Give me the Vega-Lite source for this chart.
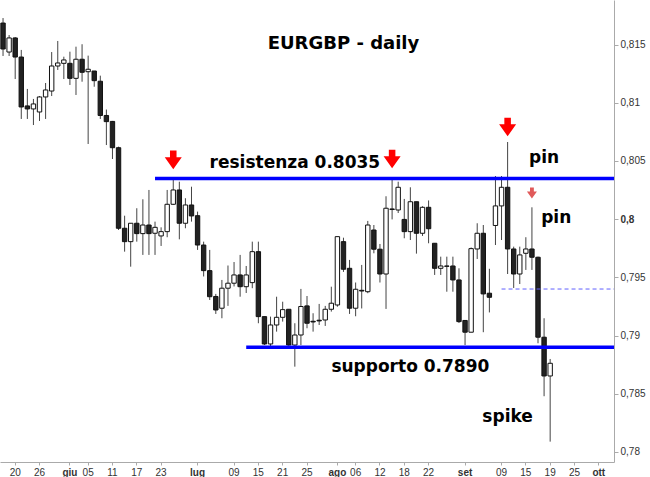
{
  "$schema": "https://vega.github.io/schema/vega-lite/v6.json",
  "width": 614,
  "height": 462,
  "autosize": {"type": "none"},
  "padding": {"left": 0, "top": 0, "right": 36, "bottom": 15},
  "background": "#ffffff",
  "config": {"view": {"stroke": null}},
  "datasets": {
    "candles": [
      {"d":"2014-05-16","o":0.81685,"h":0.81728,"l":0.81402,"c":0.81462},
      {"d":"2014-05-19","o":0.81436,"h":0.81582,"l":0.81402,"c":0.81557},
      {"d":"2014-05-20","o":0.81557,"h":0.81565,"l":0.81204,"c":0.81393},
      {"d":"2014-05-21","o":0.81393,"h":0.81454,"l":0.80861,"c":0.80964},
      {"d":"2014-05-22","o":0.80973,"h":0.81119,"l":0.80861,"c":0.80947},
      {"d":"2014-05-23","o":0.80947,"h":0.81033,"l":0.80809,"c":0.8099},
      {"d":"2014-05-26","o":0.80921,"h":0.81058,"l":0.80844,"c":0.8105},
      {"d":"2014-05-27","o":0.8105,"h":0.8117,"l":0.80861,"c":0.8111},
      {"d":"2014-05-28","o":0.81101,"h":0.81436,"l":0.81058,"c":0.81316},
      {"d":"2014-05-29","o":0.81316,"h":0.81531,"l":0.81282,"c":0.81342},
      {"d":"2014-05-30","o":0.81339,"h":0.81396,"l":0.81204,"c":0.81368},
      {"d":"2014-06-02","o":0.81339,"h":0.81439,"l":0.81153,"c":0.8121},
      {"d":"2014-06-03","o":0.8121,"h":0.81482,"l":0.81067,"c":0.81374},
      {"d":"2014-06-04","o":0.81374,"h":0.81503,"l":0.81181,"c":0.81262},
      {"d":"2014-06-05","o":0.81267,"h":0.81405,"l":0.80646,"c":0.81288},
      {"d":"2014-06-06","o":0.81273,"h":0.81273,"l":0.81138,"c":0.8119},
      {"d":"2014-06-09","o":0.81185,"h":0.81233,"l":0.80861,"c":0.80891},
      {"d":"2014-06-10","o":0.80891,"h":0.80942,"l":0.80637,"c":0.80838},
      {"d":"2014-06-11","o":0.8084,"h":0.80844,"l":0.80517,"c":0.80614},
      {"d":"2014-06-12","o":0.80614,"h":0.80623,"l":0.79907,"c":0.79922},
      {"d":"2014-06-13","o":0.79922,"h":0.8003,"l":0.79721,"c":0.79807},
      {"d":"2014-06-16","o":0.79807,"h":0.79965,"l":0.79592,"c":0.79965},
      {"d":"2014-06-17","o":0.79965,"h":0.80094,"l":0.79807,"c":0.79876},
      {"d":"2014-06-18","o":0.79876,"h":0.80171,"l":0.79693,"c":0.7995},
      {"d":"2014-06-19","o":0.7995,"h":0.80251,"l":0.79693,"c":0.79876},
      {"d":"2014-06-20","o":0.79879,"h":0.79979,"l":0.79693,"c":0.7993},
      {"d":"2014-06-23","o":0.79856,"h":0.7993,"l":0.7977,"c":0.79893},
      {"d":"2014-06-24","o":0.79893,"h":0.80251,"l":0.79845,"c":0.80128},
      {"d":"2014-06-25","o":0.80128,"h":0.80337,"l":0.80122,"c":0.80251},
      {"d":"2014-06-26","o":0.80251,"h":0.80322,"l":0.79827,"c":0.79965},
      {"d":"2014-06-27","o":0.79965,"h":0.8018,"l":0.79922,"c":0.80122},
      {"d":"2014-06-30","o":0.80122,"h":0.80279,"l":0.79979,"c":0.80028},
      {"d":"2014-07-01","o":0.8003,"h":0.80065,"l":0.79736,"c":0.79778},
      {"d":"2014-07-02","o":0.79778,"h":0.79807,"l":0.79508,"c":0.79558},
      {"d":"2014-07-03","o":0.79558,"h":0.79736,"l":0.79306,"c":0.79334},
      {"d":"2014-07-04","o":0.79336,"h":0.79358,"l":0.79186,"c":0.7922},
      {"d":"2014-07-07","o":0.79235,"h":0.79478,"l":0.79149,"c":0.79407},
      {"d":"2014-07-08","o":0.79407,"h":0.79602,"l":0.79255,"c":0.7945},
      {"d":"2014-07-09","o":0.7945,"h":0.79632,"l":0.79422,"c":0.79521},
      {"d":"2014-07-10","o":0.79521,"h":0.79693,"l":0.79334,"c":0.7942},
      {"d":"2014-07-11","o":0.7942,"h":0.79598,"l":0.79366,"c":0.79521},
      {"d":"2014-07-14","o":0.79455,"h":0.79807,"l":0.79407,"c":0.79721},
      {"d":"2014-07-15","o":0.79721,"h":0.79807,"l":0.79106,"c":0.79163},
      {"d":"2014-07-16","o":0.79163,"h":0.79163,"l":0.78919,"c":0.78928},
      {"d":"2014-07-17","o":0.78928,"h":0.79163,"l":0.78894,"c":0.79091},
      {"d":"2014-07-18","o":0.79091,"h":0.79334,"l":0.79034,"c":0.79157},
      {"d":"2014-07-21","o":0.79157,"h":0.79291,"l":0.7912,"c":0.79223},
      {"d":"2014-07-22","o":0.79226,"h":0.79226,"l":0.78911,"c":0.78919},
      {"d":"2014-07-23","o":0.78919,"h":0.79106,"l":0.78733,"c":0.79005},
      {"d":"2014-07-24","o":0.79005,"h":0.79401,"l":0.78919,"c":0.7925},
      {"d":"2014-07-25","o":0.79255,"h":0.7934,"l":0.79063,"c":0.79106},
      {"d":"2014-07-28","o":0.79123,"h":0.79192,"l":0.79034,"c":0.79117},
      {"d":"2014-07-29","o":0.79132,"h":0.79272,"l":0.79091,"c":0.79126},
      {"d":"2014-07-30","o":0.79134,"h":0.79255,"l":0.79083,"c":0.79226},
      {"d":"2014-07-31","o":0.79226,"h":0.7942,"l":0.79206,"c":0.79278},
      {"d":"2014-08-01","o":0.79263,"h":0.7985,"l":0.79248,"c":0.7985},
      {"d":"2014-08-04","o":0.79807,"h":0.79841,"l":0.79547,"c":0.7957},
      {"d":"2014-08-05","o":0.79578,"h":0.7965,"l":0.79186,"c":0.79235},
      {"d":"2014-08-06","o":0.79235,"h":0.79456,"l":0.79166,"c":0.79398},
      {"d":"2014-08-07","o":0.79389,"h":0.79607,"l":0.79233,"c":0.79383},
      {"d":"2014-08-08","o":0.79377,"h":0.79985,"l":0.79364,"c":0.7995},
      {"d":"2014-08-11","o":0.79907,"h":0.7995,"l":0.79707,"c":0.79742},
      {"d":"2014-08-12","o":0.79742,"h":0.79787,"l":0.79456,"c":0.79529},
      {"d":"2014-08-13","o":0.79529,"h":0.80197,"l":0.79229,"c":0.80094},
      {"d":"2014-08-14","o":0.80088,"h":0.80337,"l":0.79998,"c":0.80083},
      {"d":"2014-08-15","o":0.80079,"h":0.80322,"l":0.80053,"c":0.80274},
      {"d":"2014-08-18","o":0.79998,"h":0.80174,"l":0.79836,"c":0.79893},
      {"d":"2014-08-19","o":0.79893,"h":0.80274,"l":0.79821,"c":0.8015},
      {"d":"2014-08-20","o":0.8015,"h":0.8015,"l":0.79704,"c":0.79879},
      {"d":"2014-08-21","o":0.79879,"h":0.80111,"l":0.79856,"c":0.80102},
      {"d":"2014-08-22","o":0.80102,"h":0.80161,"l":0.79793,"c":0.79918},
      {"d":"2014-08-25","o":0.79793,"h":0.79793,"l":0.79521,"c":0.79578},
      {"d":"2014-08-26","o":0.79578,"h":0.79678,"l":0.79521,"c":0.79598},
      {"d":"2014-08-27","o":0.79598,"h":0.79678,"l":0.79377,"c":0.79595},
      {"d":"2014-08-28","o":0.79598,"h":0.79678,"l":0.79377,"c":0.79478},
      {"d":"2014-08-29","o":0.79478,"h":0.79578,"l":0.79108,"c":0.7912},
      {"d":"2014-09-01","o":0.7913,"h":0.79132,"l":0.78919,"c":0.79029},
      {"d":"2014-09-02","o":0.79029,"h":0.79757,"l":0.79029,"c":0.79747},
      {"d":"2014-09-03","o":0.79744,"h":0.79965,"l":0.79658,"c":0.79879},
      {"d":"2014-09-04","o":0.79879,"h":0.7995,"l":0.79029,"c":0.79358},
      {"d":"2014-09-05","o":0.79364,"h":0.79574,"l":0.79199,"c":0.79329},
      {"d":"2014-09-08","o":0.79946,"h":0.80371,"l":0.79778,"c":0.80114},
      {"d":"2014-09-09","o":0.80114,"h":0.80371,"l":0.79821,"c":0.80274},
      {"d":"2014-09-10","o":0.80274,"h":0.80663,"l":0.79529,"c":0.79744},
      {"d":"2014-09-11","o":0.79744,"h":0.79764,"l":0.79409,"c":0.79529},
      {"d":"2014-09-12","o":0.79529,"h":0.79764,"l":0.79443,"c":0.79693},
      {"d":"2014-09-15","o":0.79707,"h":0.79845,"l":0.79564,"c":0.79744},
      {"d":"2014-09-16","o":0.79744,"h":0.80102,"l":0.79564,"c":0.79673},
      {"d":"2014-09-17","o":0.79673,"h":0.79678,"l":0.78934,"c":0.78986},
      {"d":"2014-09-18","o":0.78986,"h":0.79149,"l":0.78479,"c":0.78653},
      {"d":"2014-09-19","o":0.78653,"h":0.78799,"l":0.78089,"c":0.78762}
    ],
    "levels": [
      {"start":"2014-06-20","end":"2014-10-03","p":0.8035,"kind":"resistenza"},
      {"start":"2014-07-11","end":"2014-10-03","p":0.789,"kind":"supporto"}
    ],
    "dashed": [
      {"start":"2014-09-09","end":"2014-10-03","p":0.794}
    ],
    "arrows": [
      {"d":"2014-06-25","p":0.80509},
      {"d":"2014-08-14","p":0.80517},
      {"d":"2014-09-10","p":0.80792}
    ],
    "smallArrows": [
      {"d":"2014-09-16","p":0.80225}
    ],
    "notes": [
      {"d":"2014-08-04","p":0.81505,"label":"EURGBP - daily","size":18},
      {"d":"2014-07-23","p":0.80483,"label":"resistenza 0.8035","size":17},
      {"d":"2014-08-19","p":0.7873,"label":"supporto 0.7890","size":17},
      {"d":"2014-09-18","p":0.80526,"label":"pin","size":17},
      {"d":"2014-09-22","p":0.8001,"label":"pin","size":17},
      {"d":"2014-09-10","p":0.78301,"label":"spike","size":17}
    ]
  },
  "encoding": {
    "x": {
      "field": "d",
      "type": "ordinal",
      "scale": {
        "domain": ["2014-05-16","2014-05-19","2014-05-20","2014-05-21","2014-05-22","2014-05-23","2014-05-26","2014-05-27","2014-05-28","2014-05-29","2014-05-30",
          "2014-06-02","2014-06-03","2014-06-04","2014-06-05","2014-06-06","2014-06-09","2014-06-10","2014-06-11","2014-06-12","2014-06-13","2014-06-16","2014-06-17","2014-06-18","2014-06-19","2014-06-20","2014-06-23","2014-06-24","2014-06-25","2014-06-26","2014-06-27","2014-06-30",
          "2014-07-01","2014-07-02","2014-07-03","2014-07-04","2014-07-07","2014-07-08","2014-07-09","2014-07-10","2014-07-11","2014-07-14","2014-07-15","2014-07-16","2014-07-17","2014-07-18","2014-07-21","2014-07-22","2014-07-23","2014-07-24","2014-07-25","2014-07-28","2014-07-29","2014-07-30","2014-07-31",
          "2014-08-01","2014-08-04","2014-08-05","2014-08-06","2014-08-07","2014-08-08","2014-08-11","2014-08-12","2014-08-13","2014-08-14","2014-08-15","2014-08-18","2014-08-19","2014-08-20","2014-08-21","2014-08-22","2014-08-25","2014-08-26","2014-08-27","2014-08-28","2014-08-29",
          "2014-09-01","2014-09-02","2014-09-03","2014-09-04","2014-09-05","2014-09-08","2014-09-09","2014-09-10","2014-09-11","2014-09-12","2014-09-15","2014-09-16","2014-09-17","2014-09-18","2014-09-19","2014-09-22","2014-09-23","2014-09-24","2014-09-25","2014-09-26","2014-09-29","2014-09-30",
          "2014-10-01","2014-10-02","2014-10-03"],
        "paddingInner": 0,
        "paddingOuter": 0
      },
      "axis": {
        "title": null,
        "orient": "bottom",
        "values": ["2014-05-20","2014-05-26","2014-06-02","2014-06-05","2014-06-11","2014-06-17","2014-06-23","2014-07-01","2014-07-09","2014-07-15","2014-07-21","2014-07-25","2014-08-01","2014-08-06","2014-08-12","2014-08-18","2014-08-22","2014-09-01","2014-09-09","2014-09-15","2014-09-19","2014-09-25","2014-10-01"],
        "labelExpr": "datum.value == '2014-06-02' ? 'giu' : datum.value == '2014-07-01' ? 'lug' : datum.value == '2014-08-01' ? 'ago' : datum.value == '2014-09-01' ? 'set' : datum.value == '2014-10-01' ? 'ott' : slice(datum.value, 8)",
        "labelFontWeight": {"condition": {"test": "indexof(['2014-06-02','2014-07-01','2014-08-01','2014-09-01','2014-10-01'], datum.value) >= 0", "value": "bold"}, "value": "normal"},
        "labelAngle": 0,
        "labelFont": "Liberation Sans",
        "labelFontSize": 10,
        "labelColor": "#333333",
        "labelPadding": 2,
        "tickSize": 3,
        "tickColor": "#aaaaaa",
        "domainColor": "#aaaaaa",
        "grid": false
      }
    }
  },
  "layer": [
    {
      "data": {"name": "candles"},
      "mark": {"type": "rule", "color": "#444444", "strokeWidth": 1},
      "encoding": {
        "y": {"field": "l", "type": "quantitative", "scale": {"domain": [0.77914, 0.81883], "nice": false, "zero": false},
          "axis": {"title": null, "orient": "right", "values": [0.78, 0.785, 0.79, 0.795, 0.8, 0.805, 0.81, 0.815],
            "labelExpr": "replace(toString(datum.value), '.', ',')",
            "labelFontWeight": {"condition": {"test": "datum.value == 0.8", "value": "bold"}, "value": "normal"},
            "labelFont": "Liberation Sans", "labelFontSize": 10, "labelColor": "#333333", "labelPadding": 2,
            "tickSize": 4, "tickColor": "#aaaaaa", "domainColor": "#aaaaaa", "grid": false}},
        "y2": {"field": "h"}
      }
    },
    {
      "data": {"name": "candles"},
      "mark": {"type": "bar", "width": {"band": 0.72}, "stroke": "#111111", "strokeWidth": 1},
      "encoding": {
        "y": {"field": "o", "type": "quantitative"},
        "y2": {"field": "c"},
        "fill": {"condition": {"test": "datum.c < datum.o", "value": "#222222"}, "value": "#ffffff"}
      }
    },
    {
      "data": {"name": "levels"},
      "mark": {"type": "rule", "color": "#0000ff", "strokeWidth": 3.5},
      "encoding": {
        "x": {"field": "start", "type": "ordinal"},
        "x2": {"field": "end", "bandPosition": 1},
        "y": {"field": "p", "type": "quantitative"}
      }
    },
    {
      "data": {"name": "dashed"},
      "mark": {"type": "rule", "color": "#6060ff", "strokeWidth": 1, "strokeDash": [4, 3]},
      "encoding": {
        "x": {"field": "start", "type": "ordinal"},
        "x2": {"field": "end", "bandPosition": 1},
        "y": {"field": "p", "type": "quantitative"}
      }
    },
    {
      "data": {"name": "arrows"},
      "mark": {"type": "point", "filled": true, "opacity": 1, "color": "#ff0000", "size": 350,
        "shape": "M-0.35,-1L0.35,-1L0.35,-0.29L0.91,-0.29L0,1L-0.91,-0.29L-0.35,-0.29Z"},
      "encoding": {
        "x": {"field": "d", "type": "ordinal"},
        "y": {"field": "p", "type": "quantitative"}
      }
    },
    {
      "data": {"name": "smallArrows"},
      "mark": {"type": "point", "filled": true, "opacity": 1, "color": "#e05a5a", "size": 121,
        "shape": "M-0.35,-1L0.35,-1L0.35,-0.29L0.91,-0.29L0,1L-0.91,-0.29L-0.35,-0.29Z"},
      "encoding": {
        "x": {"field": "d", "type": "ordinal"},
        "y": {"field": "p", "type": "quantitative"}
      }
    },
    {
      "data": {"name": "notes"},
      "mark": {"type": "text", "font": "DejaVu Sans", "fontWeight": "bold", "color": "#000000", "align": "center", "baseline": "middle"},
      "encoding": {
        "x": {"field": "d", "type": "ordinal"},
        "y": {"field": "p", "type": "quantitative"},
        "text": {"field": "label"},
        "size": {"field": "size", "type": "quantitative", "scale": null}
      }
    }
  ]
}
